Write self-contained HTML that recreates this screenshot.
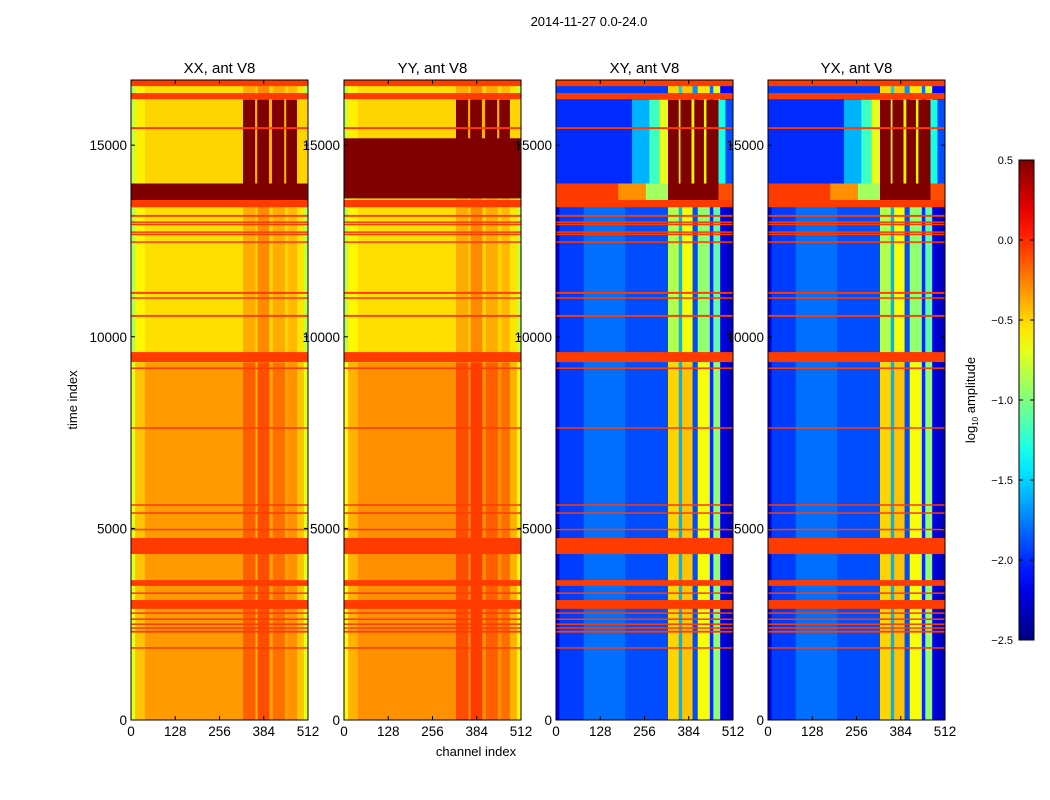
<!DOCTYPE html>
<html><head><meta charset="utf-8">
<style>
html,body{margin:0;padding:0;background:#fff;}
svg{display:block;font-family:"Liberation Sans","DejaVu Sans",sans-serif;}
</style></head>
<body>
<svg id="chart" width="1050" height="800" viewBox="0 0 1050 800" xmlns="http://www.w3.org/2000/svg">
<rect x="0" y="0" width="1050" height="800" fill="#fff"/>
<text x="589" y="26" font-size="13" text-anchor="middle">2014-11-27 0.0-24.0</text>
<g id="panels"></g>
<g id="cbar"></g>
<text x="476" y="756" font-size="13" text-anchor="middle">channel index</text>
<text transform="translate(77,400) rotate(-90)" font-size="13" text-anchor="middle">time index</text>
<text transform="translate(975,400) rotate(-90)" font-size="13" text-anchor="middle">log<tspan font-size="8" dy="3">10</tspan><tspan dy="-3"> amplitude</tspan></text>
</svg>
<script>
// ---------- data ----------
const panelTitles = ["XX, ant V8","YY, ant V8","XY, ant V8","YX, ant V8"];
const xTicks = [0,128,256,384,512];
const yTicks = [0,5000,10000,15000];
const cbarTicks = [0.5,0.0,-0.5,-1.0,-1.5,-2.0,-2.5];
const flagValue = -0.05;
// flagged time ranges [t0,t1]
const flags = [[16540,16700],[16200,16360],[15420,15470],[13380,13570],[13130,13180],[12970,13010],[12920,12950],[12710,12750],[12660,12690],[12450,12490],[11120,11170],[10990,11030],[10520,10570],[9340,9600],[9160,9200],[7600,7640],[5590,5630],[5380,5420],[4950,4990],[4330,4750],[3500,3650],[3290,3330],[2900,3130],[2770,2810],[2610,2650],[2480,2520],[2380,2420],[2280,2330],[1860,1900]];
// column profiles: [ch0,ch1,log10 value]
const profXXlow = [[0,12,-0.7],[12,40,-0.45],[40,324,-0.33],[324,360,-0.15],[360,366,-0.4],[366,400,-0.1],[400,410,-0.35],[410,445,-0.2],[445,455,-0.35],[455,480,-0.3],[480,500,-0.45],[500,512,-0.7]];
const profXXmid = [[0,12,-0.85],[12,40,-0.6],[40,324,-0.53],[324,360,-0.38],[360,366,-0.5],[366,400,-0.28],[400,410,-0.5],[410,445,-0.38],[445,455,-0.5],[455,480,-0.42],[480,500,-0.55],[500,512,-0.8]];
const profXXtop = [[0,12,-0.8],[12,40,-0.58],[40,324,-0.5],[324,359,0.5],[359,365,-0.4],[365,399,0.5],[399,408,-0.4],[408,443,0.5],[443,449,-0.4],[449,480,0.5],[480,512,-0.5]];
const profBurst = [[0,512,0.5]];
const profYYlow = [[0,12,-0.65],[12,40,-0.4],[40,324,-0.3],[324,360,-0.1],[360,366,-0.3],[366,400,-0.05],[400,410,-0.3],[410,445,-0.15],[445,455,-0.3],[455,480,-0.2],[480,500,-0.4],[500,512,-0.6]];
const profXYlow = [[0,10,-2.2],[10,80,-1.95],[80,200,-1.8],[200,324,-1.9],[324,355,-0.5],[355,365,-1.6],[365,395,-0.45],[395,410,-1.9],[410,445,-0.65],[445,455,-2.0],[455,475,-0.95],[475,490,-2.2],[490,512,-2.3]];
const profXYmid = [[0,10,-2.2],[10,80,-1.95],[80,200,-1.8],[200,324,-1.9],[324,355,-0.85],[355,365,-1.6],[365,395,-0.65],[395,410,-1.9],[410,445,-0.95],[445,455,-2.0],[455,475,-1.1],[475,490,-2.2],[490,512,-2.3]];
const profXYtop = [[0,220,-2.0],[220,270,-1.6],[270,300,-1.2],[300,324,-0.7],[324,355,0.5],[355,360,-0.6],[360,392,0.5],[392,400,-0.6],[400,428,0.5],[428,435,-0.6],[435,470,0.5],[470,490,-1.3],[490,512,-1.9]];
const profXYburst = [[0,180,-0.05],[180,260,-0.3],[260,324,-0.9],[324,470,0.5],[470,512,-0.1]];
const profXYcap = [[0,324,-1.95],[324,355,-0.5],[355,365,-1.5],[365,395,-0.45],[395,410,-1.7],[410,445,-0.55],[445,455,-1.8],[455,475,-0.7],[475,512,-2.1]];
// time blocks per panel: [t0,t1,profile]
const blocksXX = [[0,9340,profXXlow],[9340,13570,profXXmid],[13570,14010,profBurst],[14010,16200,profXXtop],[16200,16700,profXXmid]];
const blocksYY = [[0,9340,profYYlow],[9340,13620,profXXmid],[13620,15190,profBurst],[15190,16200,profXXtop],[16200,16700,profXXmid]];
const blocksXY = [[0,9340,profXYlow],[9340,13570,profXYmid],[13570,14010,profXYburst],[14010,16200,profXYtop],[16200,16700,profXYcap]];
const panelBlocks = [blocksXX,blocksYY,blocksXY,blocksXY];

// ---------- layout ----------
const NS="http://www.w3.org/2000/svg";
const panelLeft=[131,344,556,768], PW=177, PT=80, PB=720, TMAX=16700, CH=512;
const VMIN=-2.5, VMAX=0.5;
function jet(v){
  let x=(v-VMIN)/(VMAX-VMIN); x=Math.max(0,Math.min(1,x));
  const c=t=>Math.round(255*Math.max(0,Math.min(1,1.5-Math.abs(4*x-t))));
  return `rgb(${c(3)},${c(2)},${c(1)})`;
}
function yScale(t){return PB-(t/TMAX)*(PB-PT);}
function mk(tag,attrs,parent){const e=document.createElementNS(NS,tag);for(const k in attrs)e.setAttribute(k,attrs[k]);parent.appendChild(e);return e;}
const gp=document.getElementById('panels');
panelLeft.forEach((L,pi)=>{
  const xScale=ch=>L+ch/CH*PW;
  const g=mk('g',{},gp);
  
  
  panelBlocks[pi].forEach(b=>{
    b[2].forEach(s=>{
      const r=mk('rect',{x:xScale(s[0]),y:yScale(b[1]),width:xScale(s[1])-xScale(s[0])+0.4,height:yScale(b[0])-yScale(b[1])+0.4,fill:jet(s[2])},g);
      
      
    });
  });
  flags.forEach(f=>{
    const r=mk('rect',{x:L,y:yScale(f[1]),width:PW,height:Math.max(1.5,yScale(f[0])-yScale(f[1])),fill:jet(flagValue)},g);
    
    
  });
  mk('rect',{x:L,y:PT,width:PW,height:PB-PT,fill:'none',stroke:'#000','stroke-width':1},g);
  const t=mk('text',{x:L+PW/2,y:PT-7,'font-size':15,'text-anchor':'middle'},g);
  t.textContent=panelTitles[pi];
  
  
  xTicks.forEach(v=>{
    const x=xScale(v);
    mk('line',{x1:x,y1:PB,x2:x,y2:PB-4,stroke:'#000'},g);
    mk('line',{x1:x,y1:PT,x2:x,y2:PT+4,stroke:'#000'},g);
    const tx=mk('text',{x:x,y:PB+16,'font-size':13.5,'text-anchor':'middle'},g);
    tx.textContent=v;
    
    
  });
  yTicks.forEach(v=>{
    const y=yScale(v);
    mk('line',{x1:L,y1:y,x2:L+4,y2:y,stroke:'#000'},g);
    mk('line',{x1:L+PW,y1:y,x2:L+PW-4,y2:y,stroke:'#000'},g);
    const ty=mk('text',{x:L-4,y:y+5,'font-size':13.5,'text-anchor':'end'},g);
    ty.textContent=v;
    
    
  });
});
// colorbar
const gc=document.getElementById('cbar');
const CX=1019,CW=15,CT=160,CB=640;
const cy=v=>CB-(v-VMIN)/(VMAX-VMIN)*(CB-CT);
const defs=mk('defs',{},gc);
const lg=mk('linearGradient',{id:'jetg',x1:0,y1:1,x2:0,y2:0},defs);
for(let i=0;i<=20;i++){const v=VMIN+i/20*(VMAX-VMIN);mk('stop',{offset:(i/20),'stop-color':jet(v)},lg);}
const cb=mk('rect',{x:CX,y:CT,width:CW,height:CB-CT,fill:'url(#jetg)',stroke:'#000','stroke-width':1},gc);


cbarTicks.forEach(v=>{
  const y=cy(v);
  mk('line',{x1:CX,y1:y,x2:CX+4,y2:y,stroke:'#000'},gc);
  mk('line',{x1:CX+CW,y1:y,x2:CX+CW-4,y2:y,stroke:'#000'},gc);
  const t=mk('text',{x:1013,y:y+4,'font-size':11,'text-anchor':'end'},gc);
  t.textContent=(v<0?'\u2212':'')+Math.abs(v).toFixed(1);
  
  
});
</script>
</body></html>
